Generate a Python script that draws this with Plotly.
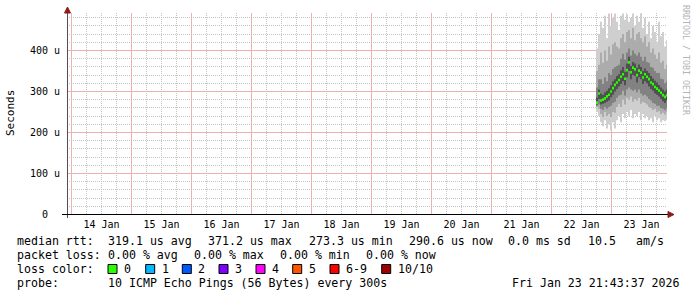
import plotly.graph_objects as go
import pandas as pd
import numpy as np

# ---------------- data (microseconds) ----------------
t_start = "2026-01-22 18:12"
n_cols = 36
times = pd.date_range(t_start, periods=n_cols, freq="48min")
col_ms = 48 * 60 * 1000

median = [273, 295, 278, 280, 283, 288, 292, 300, 308, 316, 322, 328, 336, 342, 331, 352, 371, 347,
          358, 354, 340, 351, 346, 334, 342, 336, 330, 322, 318, 311, 307, 302, 297, 291, 287, 291]
ping_max = [405, 440, 470, 455, 485, 430, 490, 460, 480, 490, 470, 450, 485, 490, 475, 488, 470, 480,
            490, 460, 485, 470, 490, 455, 480, 440, 470, 430, 460, 445, 420, 470, 435, 445, 410, 425]
ping_min = [250, 240, 225, 215, 230, 210, 220, 205, 225, 210, 230, 240, 225, 245, 235, 250, 240, 255,
            235, 245, 240, 250, 230, 245, 235, 240, 230, 235, 225, 240, 230, 235, 225, 230, 228, 232]
p2_hi = [350, 365, 395, 370, 400, 375, 410, 390, 415, 420, 410, 405, 430, 440, 420, 445, 450, 430,
         455, 425, 440, 445, 430, 420, 435, 410, 420, 395, 405, 390, 380, 395, 370, 375, 355, 365]
p2_lo = [262, 258, 245, 238, 250, 240, 245, 238, 250, 248, 262, 270, 262, 280, 268, 285, 280, 288,
         275, 282, 278, 285, 270, 275, 272, 268, 262, 260, 255, 258, 250, 252, 245, 248, 244, 250]
p3_hi = [310, 330, 330, 318, 335, 325, 345, 340, 355, 360, 362, 365, 380, 392, 378, 395, 405, 388,
         400, 392, 388, 395, 385, 375, 385, 372, 370, 360, 358, 350, 345, 345, 332, 330, 320, 325]
p3_lo = [265, 268, 258, 255, 262, 258, 262, 265, 272, 275, 285, 290, 292, 302, 290, 305, 310, 305,
         302, 305, 298, 305, 295, 290, 292, 288, 282, 278, 272, 270, 265, 265, 260, 258, 255, 260]
p4_hi = [285, 305, 295, 292, 298, 302, 308, 315, 325, 330, 338, 342, 352, 360, 348, 368, 385, 362,
         372, 368, 358, 366, 360, 350, 356, 350, 345, 338, 332, 326, 322, 316, 310, 305, 300, 304]
p4_lo = [268, 282, 268, 270, 272, 275, 278, 286, 292, 300, 306, 312, 318, 325, 315, 335, 350, 330,
         340, 338, 322, 335, 330, 318, 325, 320, 312, 306, 302, 295, 292, 288, 282, 276, 272, 278]

y_ticks = [0, 100, 200, 300, 400]
y_ticktext = ["0\u00a0\u00a0", "100 u", "200 u", "300 u", "400 u"]

loss_labels = ["0", "1", "2", "3", "4", "5", "6-9", "10/10"]
loss_colors = ["#26ff00", "#00b8ff", "#0059ff", "#7e00ff", "#ff00ff", "#ff5500", "#ff0000", "#a10000"]

line1 = ["median rtt:", "319.1 us avg", "371.2 us max", "273.3 us min", "290.6 us now",
         "0.0 ms sd", "10.5", "am/s"]
line2 = ["packet loss:", "0.00 % avg", "0.00 % max", "0.00 % min", "0.00 % now"]
probe_text = ["probe:", "10 ICMP Echo Pings (56 Bytes) every 300s"]
stamp = "Fri Jan 23 21:43:37 2026"

# ---------------- geometry ----------------
W, H = 697, 297
L, R, T, B = 67, 30, 13, 82
PW, PH = W - L - R, H - T - B
Y_SCALE = 0.41  # px per microsecond


def px(x):
    return (x - L) / PW


def py(y):
    return (T + PH - y) / PH


MONO = "DejaVu Sans Mono"

# grid positions
x_major = pd.date_range("2026-01-14", "2026-01-23", freq="D")
x_minor = [t for t in pd.date_range("2026-01-13 06:00", "2026-01-24 00:00", freq="6h") if t.hour != 0]
y_minor = [v for v in range(20, 500, 20) if v % 100 != 0]

fig = go.Figure()

bands = [
    (ping_min, ping_max, "#cfcfcf"),
    (p2_lo, p2_hi, "#acacac"),
    (p3_lo, p3_hi, "#828282"),
    (p4_lo, p4_hi, "#505050"),
]
for lo, hi, c in bands:
    lo = np.array(lo, float)
    hi = np.array(hi, float)
    fig.add_trace(go.Bar(x=times, y=hi - lo, base=lo, width=col_ms,
                         marker=dict(color=c, line=dict(width=0)),
                         showlegend=False, hoverinfo="skip"))

med = np.array(median, float)
fig.add_trace(go.Bar(x=times, y=np.full(n_cols, 6.5), base=med - 3.2, width=col_ms * 0.7,
                     marker=dict(color=loss_colors[0], line=dict(width=0)),
                     showlegend=False))

major_grid = "#eeb0b0"
minor_grid = "#c4c4c4"

fig.update_layout(
    width=W, height=H,
    margin=dict(l=L, r=R, t=T, b=B),
    paper_bgcolor="white", plot_bgcolor="white",
    barmode="overlay",
    showlegend=False,
    font=dict(family=MONO, size=10, color="black"),
    xaxis=dict(
        type="date",
        range=["2026-01-13 22:12", "2026-01-23 22:12"],
        tick0="2026-01-14", dtick=86400000,
        tickformat="%d %b", ticklabelmode="period",
        showgrid=False,
        minor=dict(tickmode="array", tickvals=x_minor, showgrid=True,
                   gridcolor=minor_grid, griddash="1px,1px", gridwidth=1),
        showline=False, zeroline=False, ticks="",
        ticklabelstandoff=2,
        tickfont=dict(family=MONO, size=10, color="black"),
        fixedrange=True,
    ),
    yaxis=dict(
        range=[-0.5 / Y_SCALE, (PH - 0.5) / Y_SCALE],
        tickmode="array", tickvals=y_ticks, ticktext=y_ticktext,
        showgrid=False,
        minor=dict(tickmode="array", tickvals=y_minor, showgrid=True,
                   gridcolor=minor_grid, griddash="1px,1px", gridwidth=1),
        showline=False, zeroline=False, ticks="",
        ticklabelstandoff=6,
        tickfont=dict(family=MONO, size=10, color="black"),
        fixedrange=True,
    ),
)

shapes = []
# major grid (pale red)
for t in x_major:
    shapes.append(dict(type="line", xref="x", yref="paper", x0=t, x1=t, y0=0, y1=1, layer="below",
                       line=dict(color=major_grid, width=1)))
for v in y_ticks[1:]:
    shapes.append(dict(type="line", xref="paper", yref="y", x0=0, x1=1, y0=v, y1=v, layer="below",
                       line=dict(color=major_grid, width=1)))
# axes
shapes.append(dict(type="line", xref="paper", yref="paper", x0=px(67.5), x1=px(67.5), y0=py(218), y1=py(11),
                   line=dict(color="#505050", width=1)))
shapes.append(dict(type="line", xref="paper", yref="paper", x0=px(62), x1=px(670), y0=py(214.5), y1=py(214.5),
                   line=dict(color="black", width=1)))
# arrows
shapes.append(dict(type="path", xref="paper", yref="paper",
                   path=f"M {px(668)} {py(211.5)} L {px(674)} {py(214.5)} L {px(668)} {py(217.5)} Z",
                   fillcolor="#8b1a1a", line=dict(color="#8b1a1a", width=1)))
shapes.append(dict(type="path", xref="paper", yref="paper",
                   path=f"M {px(64.5)} {py(13)} L {px(67.5)} {py(7)} L {px(70.5)} {py(13)} Z",
                   fillcolor="#8b1a1a", line=dict(color="#8b1a1a", width=1)))

annotations = []


def text(x, y, s, anchor="left", **kw):
    annotations.append(dict(xref="paper", yref="paper", x=px(x), y=py(y), text=s,
                            showarrow=False, xanchor=anchor, yanchor="middle", borderpad=0,
                            font=dict(family=MONO, size=11.6, color="black"), **kw))


line1_x = [16, 107, 207, 307.5, 408, 507, 587, 635]
for x, s in zip(line1_x, line1):
    text(x, 241, s)
line2_x = [16, 107, 193, 279, 365]
for x, s in zip(line2_x, line2):
    text(x, 255, s)
text(16, 269, "loss color:")
box_x = [108, 145.7, 182.3, 219, 256, 292.7, 330, 381.7]
for bx, lab, c in zip(box_x, loss_labels, loss_colors):
    shapes.append(dict(type="rect", xref="paper", yref="paper",
                       x0=px(bx), x1=px(bx + 9), y0=py(273.5), y1=py(264.5),
                       fillcolor=c, line=dict(color="black", width=1)))
    text(bx + 15, 269, lab)
text(16, 283, probe_text[0])
text(107, 283, probe_text[1])
text(681, 283, stamp, anchor="right")

# y-axis title and watermark
annotations.append(dict(xref="paper", yref="paper", x=px(10), y=py(113), text="Seconds",
                        textangle=-90, showarrow=False, xanchor="center", yanchor="middle",
                        font=dict(family=MONO, size=11, color="black")))
annotations.append(dict(xref="paper", yref="paper", x=px(686), y=py(60), text="RRDTOOL / TOBI OETIKER",
                        textangle=90, showarrow=False, xanchor="center", yanchor="middle",
                        font=dict(family=MONO, size=8.3, color="#b4b4b4")))

fig.update_layout(shapes=shapes, annotations=annotations)

fig.write_html("out.html")
